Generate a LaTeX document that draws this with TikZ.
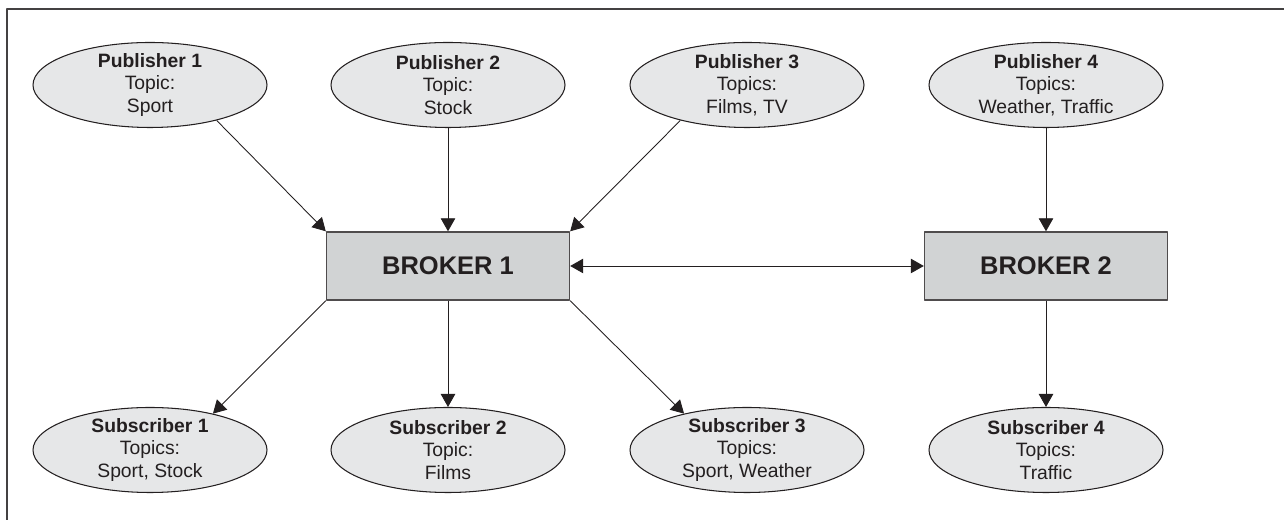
\documentclass[tikz,border=0pt]{standalone}
\usepackage{fontspec}
\setmainfont{Liberation Sans}
\usetikzlibrary{shapes.geometric,arrows.meta}
\definecolor{clientfill}{HTML}{E6E7E8}
\definecolor{brokerfill}{HTML}{D1D3D4}
\definecolor{ink}{HTML}{231F20}
\begin{document}
\begin{tikzpicture}[line join = round, >={Triangle[length=2.6mm,width=2.9mm]}, font=\fontsize{11}{12.7}\selectfont,
	client/.style={ellipse, draw=ink, fill=clientfill, line width=0.6pt, minimum width=4.68cm, minimum height=1.7cm, inner xsep=0pt, inner ysep=-0.5mm, align=center, text=ink},
	broker/.style={rectangle, draw=ink!80, fill=brokerfill, line width=0.8pt, minimum width=4.86cm, minimum height=1.36cm, font=\fontsize{14.5}{16}\selectfont\bfseries, text=ink},
	link/.style={->, line width=0.5pt, draw=ink}]
				\def \xa{3.00};
				\def \xb{8.96};
				\def \xc{14.94};
				\def \xd{20.92};
				\def \ytop{8.70};
				\def \ymid{5.08};
				\def \ybot{1.40};
				\useasboundingbox (0,0) rectangle (25.68,10.4);
				\draw[line width=0.9pt, ink!85] (0.14,0) |- (25.68,10.22);
				% publishers
				\node[client] (p1) at (\xa,\ytop) {\textbf{Publisher 1}\\Topic:\\Sport};
				\node[client] (p2) at (\xb,\ytop) {\textbf{Publisher 2}\\Topic:\\Stock};
				\node[client] (p3) at (\xc,\ytop) {\textbf{Publisher 3}\\Topics:\\Films, TV};
				\node[client] (p4) at (\xd,\ytop) {\textbf{Publisher 4}\\Topics:\\Weather, Traffic};
				% brokers
				\node[broker] (b1) at (\xb,\ymid) {BROKER 1};
				\node[broker] (b2) at (\xd,\ymid) {BROKER 2};
				% subscribers
				\node[client] (s1) at (\xa,\ybot) {\textbf{Subscriber 1}\\Topics:\\Sport, Stock};
				\node[client] (s2) at (\xb,\ybot) {\textbf{Subscriber 2}\\Topic:\\Films};
				\node[client] (s3) at (\xc,\ybot) {\textbf{Subscriber 3}\\Topics:\\Sport, Weather};
				\node[client] (s4) at (\xd,\ybot) {\textbf{Subscriber 4}\\Topics:\\Traffic};
				% links
				\draw[link] (p1.-28) -- (b1.north west);
				\draw[link] (p2) -- (b1);
				\draw[link] (p3.-152) -- (b1.north east);
				\draw[link] (p4) -- (b2);
				\draw[link,<->] (b1) -- (b2);
				\draw[link] (b1.south west) -- (s1.30);
				\draw[link] (b1) -- (s2);
				\draw[link] (b1.south east) -- (s3.150);
				\draw[link] (b2) -- (s4);
			\end{tikzpicture}
\end{document}
